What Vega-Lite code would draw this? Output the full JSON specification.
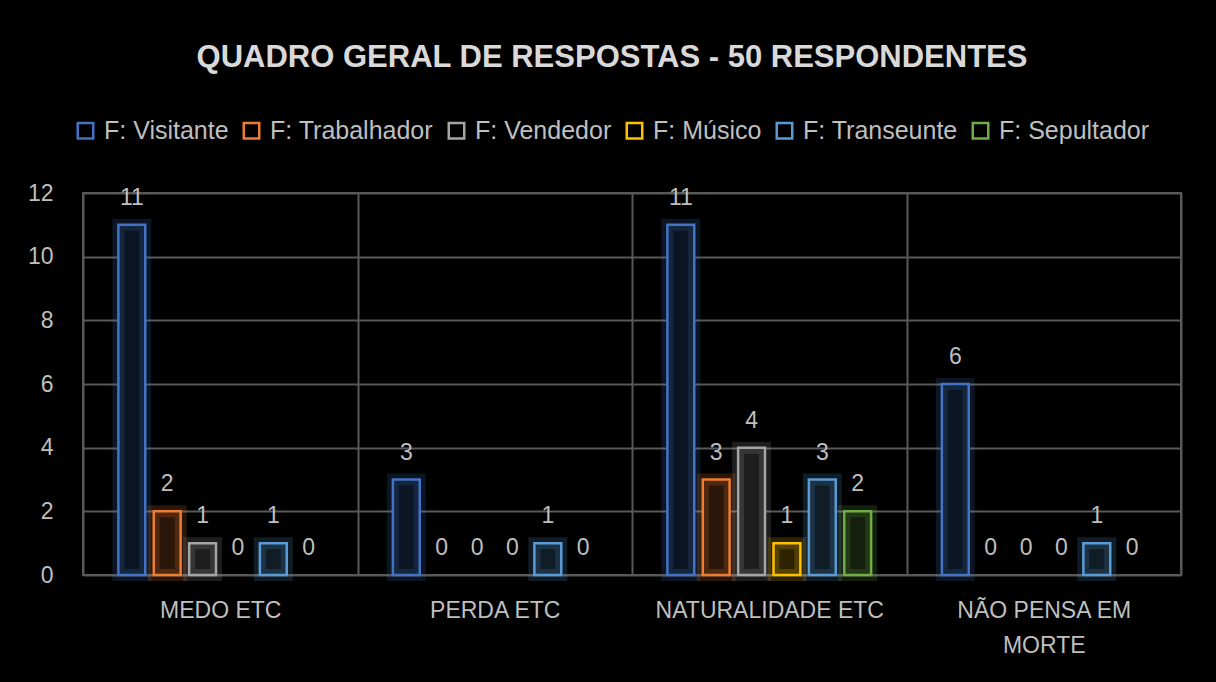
{
  "$schema": "https://vega.github.io/schema/vega-lite/v6.json",
  "autosize": {"type": "none"},
  "width": 1098,
  "height": 382,
  "padding": {"left": 83, "top": 193, "right": 35, "bottom": 107},
  "background": "#000000",
  "title": {
    "text": "QUADRO GERAL DE RESPOSTAS - 50 RESPONDENTES",
    "font": "Liberation Sans",
    "fontSize": 31,
    "fontWeight": "bold",
    "color": "#D9D9D9",
    "anchor": "middle",
    "baseline": "alphabetic",
    "offset": 20,
    "dx": -20
  },
  "data": {
    "values": [
      {"cat": "MEDO ETC", "serie": "F: Visitante", "v": 11},
      {"cat": "MEDO ETC", "serie": "F: Trabalhador", "v": 2},
      {"cat": "MEDO ETC", "serie": "F: Vendedor", "v": 1},
      {"cat": "MEDO ETC", "serie": "F: Músico", "v": 0},
      {"cat": "MEDO ETC", "serie": "F: Transeunte", "v": 1},
      {"cat": "MEDO ETC", "serie": "F: Sepultador", "v": 0},
      {"cat": "PERDA ETC", "serie": "F: Visitante", "v": 3},
      {"cat": "PERDA ETC", "serie": "F: Trabalhador", "v": 0},
      {"cat": "PERDA ETC", "serie": "F: Vendedor", "v": 0},
      {"cat": "PERDA ETC", "serie": "F: Músico", "v": 0},
      {"cat": "PERDA ETC", "serie": "F: Transeunte", "v": 1},
      {"cat": "PERDA ETC", "serie": "F: Sepultador", "v": 0},
      {"cat": "NATURALIDADE ETC", "serie": "F: Visitante", "v": 11},
      {"cat": "NATURALIDADE ETC", "serie": "F: Trabalhador", "v": 3},
      {"cat": "NATURALIDADE ETC", "serie": "F: Vendedor", "v": 4},
      {"cat": "NATURALIDADE ETC", "serie": "F: Músico", "v": 1},
      {"cat": "NATURALIDADE ETC", "serie": "F: Transeunte", "v": 3},
      {"cat": "NATURALIDADE ETC", "serie": "F: Sepultador", "v": 2},
      {"cat": "NÃO PENSA EM MORTE", "serie": "F: Visitante", "v": 6},
      {"cat": "NÃO PENSA EM MORTE", "serie": "F: Trabalhador", "v": 0},
      {"cat": "NÃO PENSA EM MORTE", "serie": "F: Vendedor", "v": 0},
      {"cat": "NÃO PENSA EM MORTE", "serie": "F: Músico", "v": 0},
      {"cat": "NÃO PENSA EM MORTE", "serie": "F: Transeunte", "v": 1},
      {"cat": "NÃO PENSA EM MORTE", "serie": "F: Sepultador", "v": 0}
    ]
  },
  "encoding": {
    "x": {
      "field": "cat",
      "type": "nominal",
      "sort": ["MEDO ETC", "PERDA ETC", "NATURALIDADE ETC", "NÃO PENSA EM MORTE"],
      "scale": {"paddingInner": 0, "paddingOuter": 0},
      "axis": {
        "title": null,
        "grid": true,
        "tickBand": "extent",
        "gridColor": "#595959",
        "gridWidth": 2,
        "domain": false,
        "ticks": false,
        "tickSize": 0,
        "labelAngle": 0,
        "labelPadding": 24,
        "labelFont": "Liberation Sans",
        "labelFontSize": 23,
        "labelLimit": 400,
        "labelColor": "#BFBFBF",
        "labelLineHeight": 35,
        "labelExpr": "datum.label == 'NÃO PENSA EM MORTE' ? ['NÃO PENSA EM', 'MORTE'] : datum.label"
      }
    },
    "xOffset": {
      "field": "serie",
      "type": "nominal",
      "scale": {"domain": ["F: Visitante", "F: Trabalhador", "F: Vendedor", "F: Músico", "F: Transeunte", "F: Sepultador"], "paddingInner": 0.24, "paddingOuter": 1.12}
    },
    "y": {
      "field": "v",
      "type": "quantitative",
      "scale": {"domain": [0, 12], "nice": false},
      "axis": {
        "title": null,
        "values": [0, 2, 4, 6, 8, 10, 12],
        "grid": true,
        "gridColor": "#595959",
        "gridWidth": 2,
        "domain": false,
        "ticks": false,
        "tickSize": 0,
        "labelPadding": 30,
        "labelFont": "Liberation Sans",
        "labelFontSize": 23,
        "labelColor": "#BFBFBF"
      }
    }
  },
  "layer": [
    {
      "transform": [{"filter": "datum.v > 0"}],
      "mark": {"type": "bar", "strokeWidth": 12, "strokeOpacity": 0.18, "fillOpacity": 1},
      "encoding": {
        "stroke": {
          "field": "serie",
          "type": "nominal",
          "scale": {"domain": ["F: Visitante", "F: Trabalhador", "F: Vendedor", "F: Músico", "F: Transeunte", "F: Sepultador"], "range": ["#4472C4", "#ED7D31", "#A5A5A5", "#FFC000", "#5B9BD5", "#70AD47"]}
        },
        "fill": {
          "field": "serie",
          "type": "nominal",
          "sort": ["F: Visitante", "F: Trabalhador", "F: Vendedor", "F: Músico", "F: Transeunte", "F: Sepultador"],
          "scale": {"range": ["#0C1523", "#2B1709", "#1E1E1E", "#2E2300", "#101C26", "#141F0D"]},
          "legend": null
        }
      }
    },
    {
      "transform": [{"filter": "datum.v > 0"}],
      "mark": {"type": "bar", "filled": false, "strokeWidth": 2.5},
      "encoding": {
        "stroke": {
          "field": "serie",
          "type": "nominal",
          "legend": {
            "orient": "none",
            "direction": "horizontal",
            "legendX": -10,
            "legendY": -75,
            "title": null
          }
        }
      }
    },
    {
      "mark": {"type": "text", "baseline": "alphabetic", "dy": -20, "font": "Liberation Sans", "fontSize": 23, "color": "#BFBFBF"},
      "encoding": {
        "text": {"field": "v", "type": "quantitative"}
      }
    }
  ],
  "config": {
    "view": {"stroke": "#595959", "strokeWidth": 2},
    "legend": {
      "orient": "none",
      "direction": "horizontal",
      "legendX": -10,
      "legendY": -75,
      "symbolType": "square",
      "symbolSize": 240,
      "symbolStrokeWidth": 2.5,
      "symbolOpacity": 1,
      "symbolFillColor": "transparent",
      "labelFont": "Liberation Sans",
      "labelFontSize": 25,
      "labelColor": "#BFBFBF",
      "labelOffset": 6,
      "columnPadding": 9,
      "labelLimit": 400
    }
  }
}
